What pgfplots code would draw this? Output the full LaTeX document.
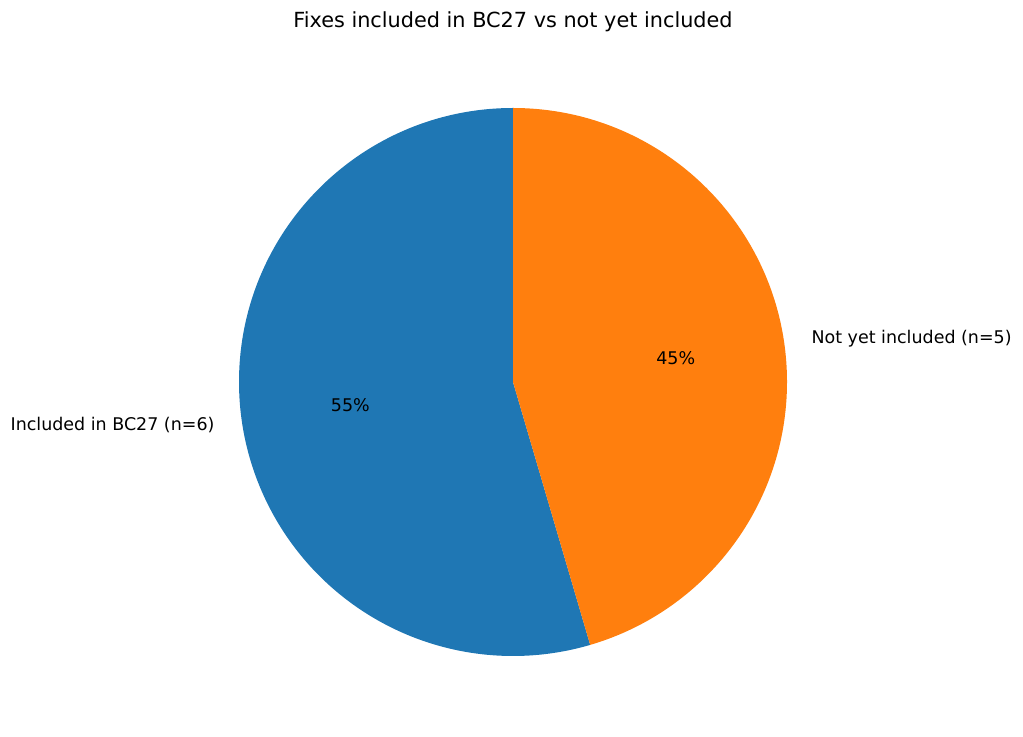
\documentclass[border=0pt]{standalone}
\usepackage{fontspec}
\setmainfont{DejaVu Sans}
\usepackage{pgfplots}
\pgfplotsset{compat=1.18}
\definecolor{tabblue}{HTML}{1F77B4}
\definecolor{taborange}{HTML}{FF7F0E}
\begin{document}
\begin{tikzpicture}
\pgfmathsetmacro{\nA}{6}% Included in BC27
\pgfmathsetmacro{\nB}{5}% Not yet included
\pgfmathsetmacro{\angA}{360*\nA/(\nA+\nB)}
\begin{axis}[width=767.25pt,height=552.75pt,scale only axis,hide axis,
  xmin=0,xmax=1023,ymin=0,ymax=737,y dir=reverse,clip=false]
\path (axis cs:0,0) (axis cs:1023,737);
\fill[tabblue] (axis cs:513,382) -- ++(90:205.5pt) arc[start angle=90,end angle={90+\angA},radius=205.5pt] -- cycle;
\fill[taborange] (axis cs:513,382) -- ++(90:205.5pt) arc[start angle=90,end angle={90+\angA-360},radius=205.5pt] -- cycle;
\node[anchor=base,font=\fontsize{15.6}{18}\selectfont] at (axis cs:513,28) {Fixes included in BC27 vs not yet included};
\node[anchor=east,inner sep=0pt,font=\fontsize{13.1}{16}\selectfont] at (axis cs:214.7,424.9) {Included in BC27 (n=6)};
\node[anchor=west,inner sep=0pt,font=\fontsize{13.1}{16}\selectfont] at (axis cs:811.3,339.1) {Not yet included (n=5)};
\node[inner sep=0pt,font=\fontsize{13.1}{16}\selectfont] at (axis cs:350.3,405.4) {55\%};
\node[inner sep=0pt,font=\fontsize{13.1}{16}\selectfont] at (axis cs:675.7,358.6) {45\%};
\end{axis}
\end{tikzpicture}
\end{document}
